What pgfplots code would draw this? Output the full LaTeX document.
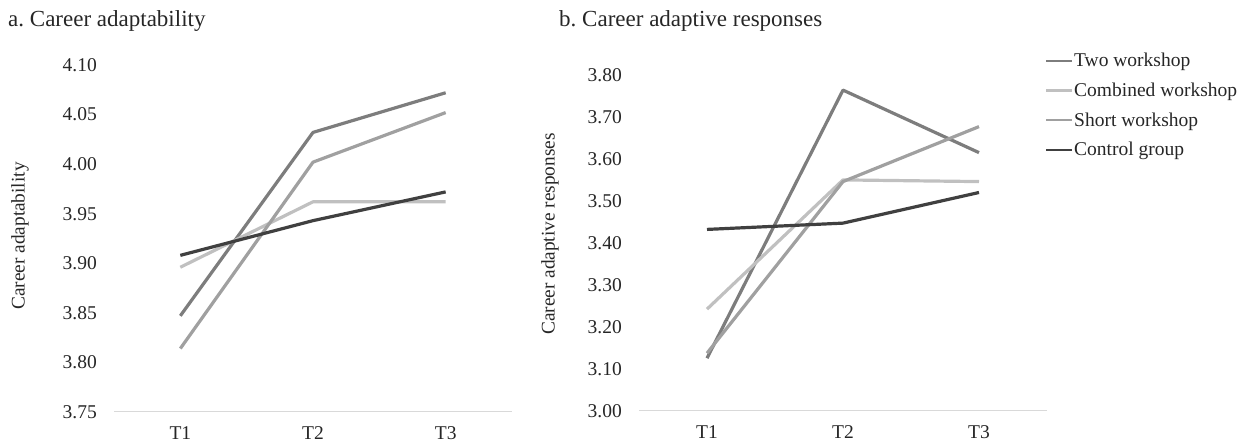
\documentclass[border=0pt]{standalone}
\usepackage{fontspec}
\setmainfont{Liberation Serif}
\usepackage{pgfplots}
\pgfplotsset{compat=1.18}
\frenchspacing
\definecolor{ctwo}{RGB}{125,125,125}
\definecolor{ccomb}{RGB}{192,192,192}
\definecolor{cshort}{RGB}{160,160,160}
\definecolor{cctrl}{RGB}{64,64,64}
\definecolor{caxis}{RGB}{217,217,217}
\pgfplotsset{
  common/.style={
    scale only axis,
    xmin=-0.5, xmax=2.5,
    xtick={0,1,2}, xticklabels={T1,T2,T3},
    axis lines*=left,
    x axis line style={draw=caxis, line width=1pt},
    y axis line style={draw=none},
    tick style={draw=none},
    /pgf/number format/assume math mode=true,
    /pgf/number format/fixed, /pgf/number format/fixed zerofill,
    /pgf/number format/precision=2,
    ticklabel style={font=\fontsize{19.5}{22}\selectfont, text=black!85},
    yticklabel style={anchor=east, inner sep=0pt, xshift=-17pt},
    xticklabel style={anchor=base, inner sep=0pt, yshift=-28pt},
    clip=false,
    every axis plot/.append style={line width=3.2pt, line join=round},
  }
}
\begin{document}
\begin{tikzpicture}[x=1pt,y=1pt]
\path[use as bounding box] (0,0) rectangle (1258,446);
\node[anchor=base west, inner sep=0pt, font=\fontsize{23}{26}\selectfont, text=black!85] at (8,419) {a. Career adaptability};
\node[anchor=base west, inner sep=0pt, font=\fontsize{23}{26}\selectfont, text=black!85] at (559,419) {b. Career adaptive responses};
\node[rotate=90, inner sep=0pt, font=\fontsize{19.3}{22}\selectfont, text=black!85] at (20,210) {Career adaptability};
\node[rotate=90, inner sep=0pt, font=\fontsize{19.3}{22}\selectfont, text=black!85] at (550,212) {Career adaptive responses};
\begin{axis}[common,
  at={(114pt,34pt)}, anchor=south west,
  width=398pt, height=347pt,
  ymin=3.75, ymax=4.10,
  ytick={3.75,3.80,3.85,3.90,3.95,4.00,4.05,4.10},
]
\addplot[ctwo] coordinates {(0,3.847) (1,4.032) (2,4.072)};
\addplot[ccomb] coordinates {(0,3.896) (1,3.962) (2,3.962)};
\addplot[cshort] coordinates {(0,3.814) (1,4.002) (2,4.052)};
\addplot[cctrl] coordinates {(0,3.908) (1,3.943) (2,3.972)};
\end{axis}
\begin{axis}[common,
  at={(639pt,35.3pt)}, anchor=south west,
  width=408pt, height=335.7pt,
  ymin=3.00, ymax=3.80,
  ytick={3.00,3.10,3.20,3.30,3.40,3.50,3.60,3.70,3.80},
  legend style={at={(rel axis cs:0.995,1.068)}, anchor=north west, draw=none, fill=none,
    font=\fontsize{19.5}{22}\selectfont, text=black!85,
    row sep=12.7pt, inner sep=0pt, outer sep=0pt,
    nodes={inner sep=1pt}},
  legend cell align=left,
  legend image code/.code={\draw[#1, line width=2.2pt] (0pt,0pt) -- (26pt,0pt);},
]
\addplot[ctwo] coordinates {(0,3.125) (1,3.764) (2,3.615)};
\addplot[ccomb] coordinates {(0,3.242) (1,3.550) (2,3.546)};
\addplot[cshort] coordinates {(0,3.137) (1,3.546) (2,3.677)};
\addplot[cctrl] coordinates {(0,3.432) (1,3.447) (2,3.520)};
\legend{Two workshop, Combined workshop, Short workshop, Control group}
\end{axis}
\end{tikzpicture}
\end{document}
